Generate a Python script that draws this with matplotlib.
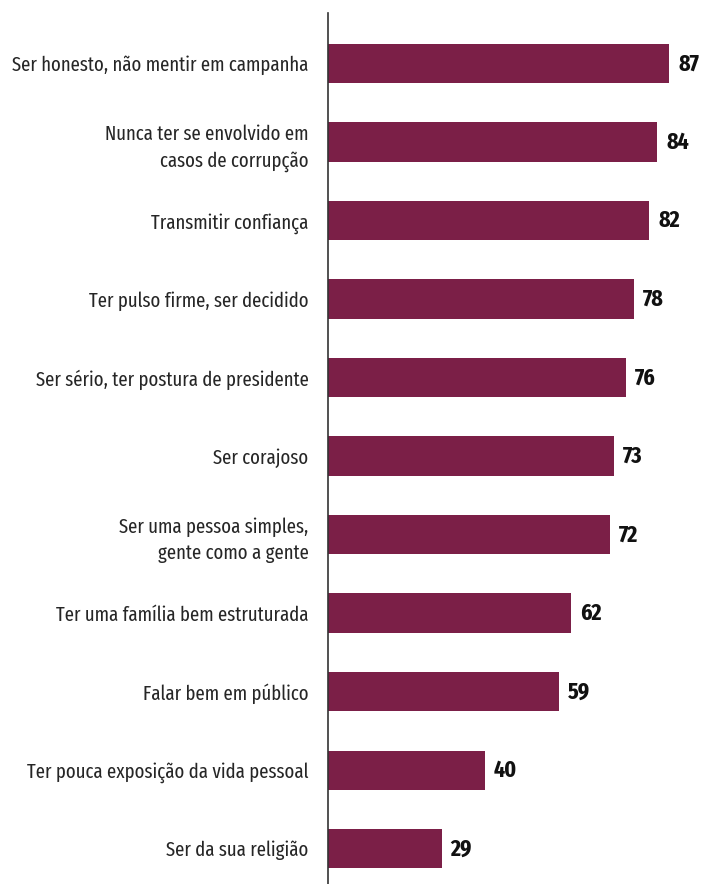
import matplotlib
matplotlib.use('Agg')
import matplotlib.pyplot as plt

# categories and values
labels = ['Ser honesto, não mentir em campanha',
          'Nunca ter se envolvido em\ncasos de corrupção',
          'Transmitir confiança',
          'Ter pulso firme, ser decidido',
          'Ser sério, ter postura de presidente',
          'Ser corajoso',
          'Ser uma pessoa simples,\ngente como a gente',
          'Ter uma família bem estruturada',
          'Falar bem em público',
          'Ter pouca exposição da vida pessoal',
          'Ser da sua religião']
values = [87, 84, 82, 78, 76, 73, 72, 62, 59, 40, 29]

plt.rcParams['font.family'] = ['Fira Sans Extra Condensed', 'DejaVu Sans']

W, H = 703, 884
fig = plt.figure(figsize=(W / 100, H / 100), dpi=100)
ax = fig.add_axes([328 / W, 0, (W - 328) / W, (H - 13) / H])

bar_color = '#7b1f47'
pos = list(range(len(values)))
ax.barh(pos, values, height=0.5, color=bar_color)

for p, v in zip(pos, values):
    ax.text(v + 2.3, p, str(v), va='center', ha='left', fontsize=17,
            fontweight='bold', color='#111111')

ax.set_xlim(0, 87 * 375 / 341)
ax.set_ylim(10.45, -0.643)
ax.set_yticks(pos)
ax.set_yticklabels(labels, fontsize=14.7, fontweight='normal', color='#262626',
                   ha='right', multialignment='right', linespacing=1.45)
ax.tick_params(axis='y', length=0, pad=14)
ax.set_xticks([])
for s in ['top', 'right', 'bottom']:
    ax.spines[s].set_visible(False)
ax.spines['left'].set_color('#333333')
ax.spines['left'].set_linewidth(1.2)

plt.savefig('out.png', dpi=100)
